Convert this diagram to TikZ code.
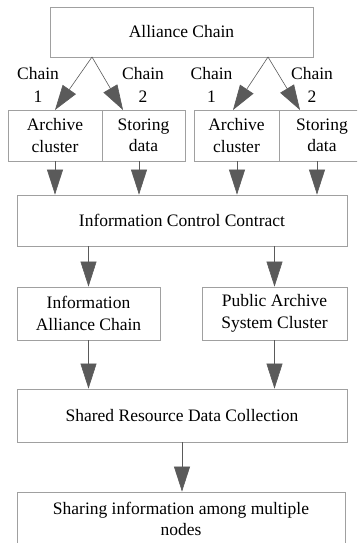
\documentclass[tikz,border=0pt]{standalone}
\usepackage{fontspec}
\setmainfont{Liberation Serif}
\usetikzlibrary{arrows.meta}
\definecolor{boxline}{HTML}{A0A0A0}
\definecolor{arrowgray}{HTML}{5A5A5A}
\tikzset{
  box/.style={draw=boxline, line width=0.8pt, rectangle, inner sep=0pt,
    align=center, font=\fontsize{17.5}{21.5}\selectfont},
  lbl/.style={inner sep=0pt, align=center, font=\fontsize{17.5}{23}\selectfont},
  arr/.style={draw=arrowgray, line width=0.6pt,
    -{Triangle[length=25pt,width=16pt,fill=arrowgray]}}
}
\begin{document}
\begin{tikzpicture}[x=1pt,y=-1pt]
\useasboundingbox (0,0) rectangle (357,543);
\clip (0,0) rectangle (357,543);

% top level
\node[box, minimum width=263pt, minimum height=50pt] (top) at (181.5,32) {Alliance Chain};

% two chain pairs
\node[box, minimum width=94pt, minimum height=51pt] (a1) at (55,135.5) {Archive\\cluster};
\node[box, minimum width=83pt, minimum height=51pt] (s1) at (143.5,135.5) {Storing\\data};
\node[box, minimum width=85pt, minimum height=51pt] (a2) at (236.5,135.5) {Archive\\cluster};
\node[box, minimum width=86pt, minimum height=51pt] (s2) at (322,135.5) {Storing\\data};

\node[lbl] (l1) at (38,84.5) {Chain\\1};
\node[lbl] (l2) at (143,84.5) {Chain\\2};
\node[lbl] (l3) at (211.5,84.5) {Chain\\1};
\node[lbl] (l4) at (312,84.5) {Chain\\2};

% contract and below
\node[box, minimum width=330pt, minimum height=51pt] (icc) at (182,220.5) {Information Control Contract};
\node[box, minimum width=143pt, minimum height=53pt] (iac) at (88.5,313.5) {Information\\Alliance Chain};
\node[box, minimum width=145pt, minimum height=53pt] (pasc) at (274.5,313.5) {Public Archive\\System Cluster};
\node[box, minimum width=330pt, minimum height=53pt] (srdc) at (182,415.5) {Shared Resource Data Collection};
\node[box, minimum width=328pt, minimum height=54pt] (share) at (181,519) {Sharing information among multiple\\nodes};

% branch points under the top box
\coordinate (ap1) at (92,57);
\coordinate (ap2) at (268,57);
\coordinate (t1) at (55,110);
\coordinate (t2) at (123,110);
\coordinate (t3) at (233,110);
\coordinate (t4) at (300,110);
\draw[arr] (ap1) -- (t1);
\draw[arr] (ap1) -- (t2);
\draw[arr] (ap2) -- (t3);
\draw[arr] (ap2) -- (t4);

% from the pairs to the contract
\coordinate (d1) at (55,161);
\coordinate (d2) at (139,161);
\coordinate (d3) at (237,161);
\coordinate (d4) at (317,161);
\foreach \d in {d1,d2,d3,d4}
  \draw[arr] (\d) -- (\d |- icc.north);

\draw[arr] (iac.north |- icc.south) -- (iac.north);
\draw[arr] (pasc.north |- icc.south) -- (pasc.north);
\draw[arr] (iac.south) -- (iac.south |- srdc.north);
\draw[arr] (pasc.south) -- (pasc.south |- srdc.north);
\draw[arr] (srdc.south) -- (srdc.south |- share.north);
\end{tikzpicture}
\end{document}
